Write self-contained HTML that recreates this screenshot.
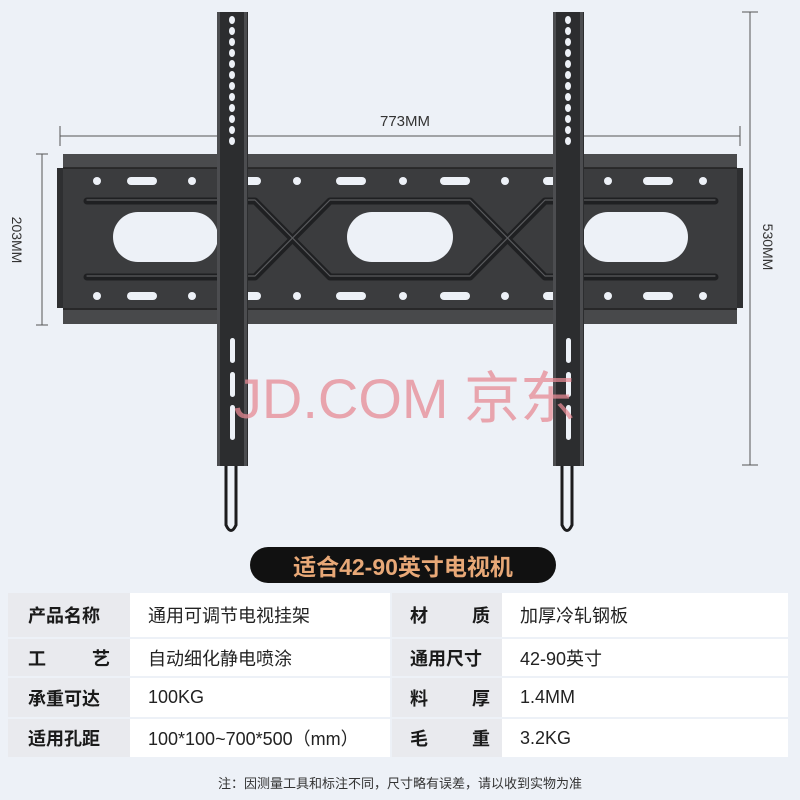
<!DOCTYPE html>
<html><head><meta charset="utf-8"><style>
*{margin:0;padding:0;box-sizing:border-box}
body{width:800px;height:800px;background:#edf1f7;position:relative;overflow:hidden;font-family:"Liberation Sans","Noto Sans CJK SC",sans-serif}
.c{position:absolute;display:flex;align-items:center;font-size:18px;color:#222;white-space:nowrap}
.l{background:#e9eaee;justify-content:space-between;padding:0 20px;font-weight:bold;color:#1a1a1a}
.r{padding:0 12px 0 18px}
.v{background:#fff;padding-left:18px}
.pill{position:absolute;left:250px;top:547px;width:306px;height:36px;border-radius:18px;background:#111;color:#e8a877;font-weight:bold;font-size:23px;display:flex;align-items:center;justify-content:center}
.note{position:absolute;top:773px;left:0;width:800px;text-align:center;font-size:13px;color:#333}
</style></head><body>
<svg width="800" height="545" style="position:absolute;left:0;top:0" font-family="Liberation Sans, sans-serif">
<g stroke="#555" stroke-width="1" fill="none">
<line x1="60" y1="136" x2="740" y2="136"/><line x1="60" y1="126" x2="60" y2="146"/><line x1="740" y1="126" x2="740" y2="146"/>
<line x1="42" y1="154" x2="42" y2="325"/><line x1="36" y1="154" x2="48" y2="154"/><line x1="36" y1="325" x2="48" y2="325"/>
<line x1="750" y1="12" x2="750" y2="465"/><line x1="742" y1="12" x2="758" y2="12"/><line x1="742" y1="465" x2="758" y2="465"/>
</g>
<text x="405" y="126" font-size="15" fill="#333" text-anchor="middle">773MM</text>
<text transform="translate(12,240) rotate(90)" font-size="14" fill="#333" text-anchor="middle">203MM</text>
<text transform="translate(763,247) rotate(90)" font-size="14" fill="#333" text-anchor="middle">530MM</text>
<rect x="57" y="168" width="686" height="140" fill="#2e2f31"/>
<rect x="63" y="154" width="674" height="170" fill="#3b3c3e"/>
<rect x="63" y="154" width="674" height="14" fill="#4a4b4d"/>
<rect x="63" y="310" width="674" height="14" fill="#48494b"/>
<line x1="63" y1="168" x2="737" y2="168" stroke="#222" stroke-width="1.5"/>
<line x1="63" y1="309" x2="737" y2="309" stroke="#222" stroke-width="1.5"/>
<g fill="none" stroke-linecap="round" stroke-linejoin="round">
<path d="M87 201H255L330 277H470L545 201H715 M87 277H255L330 201H470L545 277H715" stroke="#1f2022" stroke-width="7"/>
<path d="M87 200H255L330 276H470L545 200H715 M87 276H255L330 200H470L545 276H715" stroke="#5a5b5e" stroke-width="1.2"/>
</g>
<g fill="#edf1f7">
<rect x="113" y="212" width="105" height="50" rx="25"/>
<rect x="347" y="212" width="106" height="50" rx="25"/>
<rect x="583" y="212" width="105" height="50" rx="25"/>
<circle cx="97" cy="181" r="4"/><circle cx="192" cy="181" r="4"/><circle cx="297" cy="181" r="4"/><circle cx="403" cy="181" r="4"/><circle cx="505" cy="181" r="4"/><circle cx="608" cy="181" r="4"/><circle cx="703" cy="181" r="4"/>
<circle cx="97" cy="296" r="4"/><circle cx="192" cy="296" r="4"/><circle cx="297" cy="296" r="4"/><circle cx="403" cy="296" r="4"/><circle cx="505" cy="296" r="4"/><circle cx="608" cy="296" r="4"/><circle cx="703" cy="296" r="4"/>
<rect x="127" y="177" width="30" height="8" rx="4"/><rect x="231" y="177" width="30" height="8" rx="4"/><rect x="336" y="177" width="30" height="8" rx="4"/><rect x="440" y="177" width="30" height="8" rx="4"/><rect x="543" y="177" width="30" height="8" rx="4"/><rect x="643" y="177" width="30" height="8" rx="4"/>
<rect x="127" y="292" width="30" height="8" rx="4"/><rect x="231" y="292" width="30" height="8" rx="4"/><rect x="336" y="292" width="30" height="8" rx="4"/><rect x="440" y="292" width="30" height="8" rx="4"/><rect x="543" y="292" width="30" height="8" rx="4"/><rect x="643" y="292" width="30" height="8" rx="4"/>
</g>
<g fill="none" stroke="#1c1c1e" stroke-width="3">
<path d="M226 460 V525 Q231 536 236 525 V460"/>
<path d="M562 460 V525 Q567 536 572 525 V460"/>
</g>
<g>
<rect x="217" y="12" width="31" height="454" fill="#2c2d2f"/>
<rect x="217" y="12" width="3" height="454" fill="#4c4d50"/><rect x="244" y="12" width="3" height="454" fill="#4c4d50"/>
<rect x="553" y="12" width="31" height="454" fill="#2c2d2f"/>
<rect x="553" y="12" width="3" height="454" fill="#4c4d50"/><rect x="580" y="12" width="3" height="454" fill="#4c4d50"/>
</g>
<g fill="#edf1f7">
<g id="h">
<ellipse cx="232" cy="20" rx="3" ry="4"/><ellipse cx="232" cy="31" rx="3" ry="4"/><ellipse cx="232" cy="42" rx="3" ry="4"/><ellipse cx="232" cy="53" rx="3" ry="4"/><ellipse cx="232" cy="64" rx="3" ry="4"/><ellipse cx="232" cy="75" rx="3" ry="4"/><ellipse cx="232" cy="86" rx="3" ry="4"/><ellipse cx="232" cy="97" rx="3" ry="4"/><ellipse cx="232" cy="108" rx="3" ry="4"/><ellipse cx="232" cy="119" rx="3" ry="4"/><ellipse cx="232" cy="130" rx="3" ry="4"/><ellipse cx="232" cy="141" rx="3" ry="4"/>
<rect x="230" y="338" width="5" height="25" rx="2.5"/><rect x="230" y="372" width="5" height="25" rx="2.5"/><rect x="230" y="405" width="5" height="35" rx="2.5"/>
</g>
<use href="#h" x="336"/>
</g>
<text x="405" y="418" font-size="56" fill="#e58a94" fill-opacity="0.75" text-anchor="middle" font-family="Liberation Sans, Noto Sans CJK SC, sans-serif">JD.COM 京东</text>
</svg>
<div class="pill">适合42-90英寸电视机</div>
<div class="c l" style="left:8px;top:593px;width:122px;height:44px">产品名称</div>
<div class="c v" style="left:130px;top:593px;width:260px;height:44px">通用可调节电视挂架</div>
<div class="c l r" style="left:392px;top:593px;width:110px;height:44px"><span>材</span><span>质</span></div>
<div class="c v" style="left:502px;top:593px;width:286px;height:44px">加厚冷轧钢板</div>
<div class="c l" style="left:8px;top:639px;width:122px;height:37px"><span>工</span><span>艺</span></div>
<div class="c v" style="left:130px;top:639px;width:260px;height:37px">自动细化静电喷涂</div>
<div class="c l r" style="left:392px;top:639px;width:110px;height:37px">通用尺寸</div>
<div class="c v" style="left:502px;top:639px;width:286px;height:37px">42-90英寸</div>
<div class="c l" style="left:8px;top:678px;width:122px;height:39px">承重可达</div>
<div class="c v" style="left:130px;top:678px;width:260px;height:39px">100KG</div>
<div class="c l r" style="left:392px;top:678px;width:110px;height:39px"><span>料</span><span>厚</span></div>
<div class="c v" style="left:502px;top:678px;width:286px;height:39px">1.4MM</div>
<div class="c l" style="left:8px;top:719px;width:122px;height:38px">适用孔距</div>
<div class="c v" style="left:130px;top:719px;width:260px;height:38px">100*100~700*500（mm）</div>
<div class="c l r" style="left:392px;top:719px;width:110px;height:38px"><span>毛</span><span>重</span></div>
<div class="c v" style="left:502px;top:719px;width:286px;height:38px">3.2KG</div>
<div class="note">注：因测量工具和标注不同，尺寸略有误差，请以收到实物为准</div>
</body></html>
